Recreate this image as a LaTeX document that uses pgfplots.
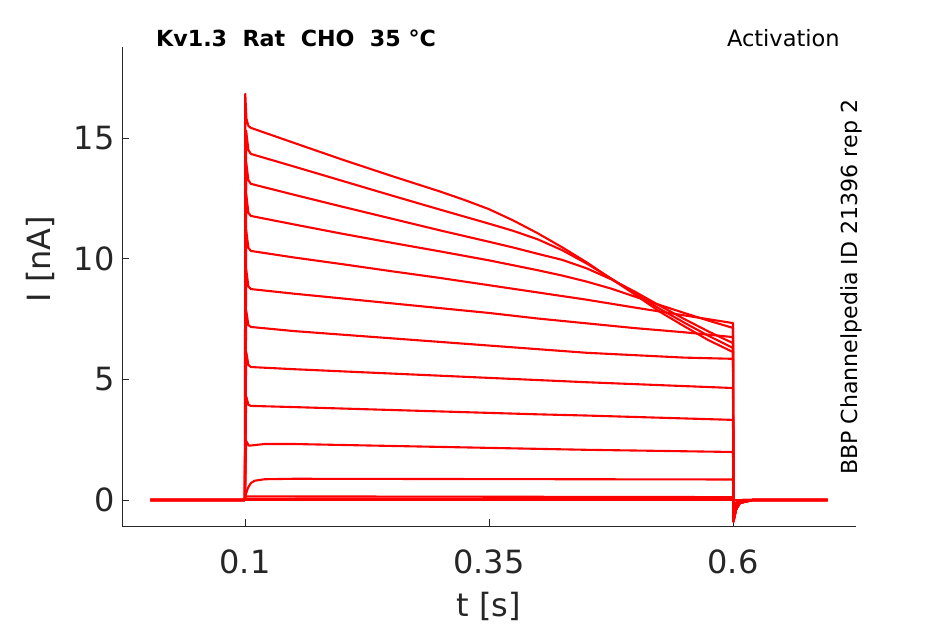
\documentclass[border=0pt]{standalone}
\usepackage{pgfplots}
\pgfplotsset{compat=1.18}
\usepackage{fontspec}
\setmainfont{DejaVu Sans}
\definecolor{axcol}{HTML}{262626}
\pgfplotsset{trace/.style={color=red, line width=2.1pt, line join=round, no markers}}
\begin{document}
\begin{tikzpicture}
\path[use as bounding box] (-122pt,-98pt) rectangle (823pt,526pt);
\begin{axis}[
  scale only axis, width=734pt, height=479pt,
  xmin=-0.026, xmax=0.726, ymin=-1.077, ymax=18.77,
  axis x line*=bottom, axis y line*=left,
  axis line style={-, draw=axcol, line width=0.9pt},
  xtick={0.1,0.35,0.6}, xticklabels={0.1,0.35,0.6},
  ytick={0,5,10,15}, yticklabels={0,5,10,15},
  tick align=inside, major tick length=7pt,
  tick style={draw=axcol, line width=0.9pt},
  tick label style={font=\fontsize{32}{38}\selectfont, text=axcol},
  /pgf/number format/assume math mode=true,
  xticklabel style={yshift=-20pt},
  yticklabel style={xshift=-4pt},
  xlabel={t [s]}, ylabel={I [nA]},
  xlabel style={at={(axis description cs:0.5,-0.167)}, anchor=center, font=\fontsize{32}{38}\selectfont, text=axcol},
  ylabel style={at={(axis description cs:-0.1117,0.557)}, anchor=center, font=\fontsize{32}{38}\selectfont, text=axcol},
  clip=false,
]
% near-zero traces
\addplot[trace] coordinates {(0.003,0) (0.6,0) (0.697,0)};
\addplot[trace] coordinates {(0.003,0) (0.0999,0) (0.101,0.06) (0.6,0.05) (0.6004,-0.3) (0.604,-0.05) (0.61,0) (0.697,0)};
\addplot[trace] coordinates {(0.003,0) (0.0999,0) (0.101,0.15) (0.3,0.14) (0.6,0.12) (0.6004,-0.4) (0.604,-0.08) (0.61,0) (0.697,0)};
% T11
\addplot[trace] coordinates {(0.003,0) (0.0999,0) (0.101,0.25) (0.103,0.5) (0.106,0.7) (0.11,0.8) (0.12,0.86) (0.15,0.88) (0.3,0.87) (0.45,0.86) (0.6,0.85) (0.6004,-0.5) (0.603,-0.15) (0.61,0) (0.697,0)};
% T10
\addplot[trace] coordinates {(0.003,0) (0.0999,0) (0.1012,2.45) (0.104,2.25) (0.12,2.32) (0.15,2.32) (0.2,2.28) (0.25,2.24) (0.3,2.2) (0.35,2.16) (0.4,2.12) (0.45,2.08) (0.5,2.05) (0.55,2.02) (0.6,1.99) (0.6004,-0.6) (0.603,-0.2) (0.61,-0.02) (0.62,0) (0.697,0)};
% T9
\addplot[trace] coordinates {(0.003,0) (0.0999,0) (0.1012,4.3) (0.1035,3.95) (0.106,3.9) (0.15,3.85) (0.2,3.79) (0.25,3.73) (0.3,3.67) (0.35,3.61) (0.4,3.55) (0.45,3.5) (0.5,3.44) (0.55,3.38) (0.6,3.32) (0.6004,-0.7) (0.603,-0.3) (0.607,-0.08) (0.62,0) (0.697,0)};
% T8
\addplot[trace] coordinates {(0.003,0) (0.0999,0) (0.1012,6.15) (0.1035,5.6) (0.106,5.51) (0.15,5.42) (0.2,5.33) (0.25,5.24) (0.3,5.15) (0.35,5.06) (0.4,4.97) (0.45,4.88) (0.5,4.8) (0.55,4.72) (0.6,4.64) (0.6004,-0.8) (0.603,-0.35) (0.607,-0.1) (0.62,0) (0.697,0)};
% T7
\addplot[trace] coordinates {(0.003,0) (0.0999,0) (0.1012,7.87) (0.1035,7.25) (0.106,7.17) (0.15,7.0) (0.2,6.85) (0.25,6.7) (0.3,6.55) (0.35,6.4) (0.4,6.25) (0.45,6.1) (0.5,6.0) (0.55,5.9) (0.6,5.85) (0.6004,-0.85) (0.603,-0.4) (0.607,-0.12) (0.62,0) (0.697,0)};
% T6
\addplot[trace] coordinates {(0.003,0) (0.0999,0) (0.1012,9.57) (0.1035,8.85) (0.106,8.74) (0.15,8.55) (0.2,8.35) (0.25,8.15) (0.3,7.95) (0.35,7.75) (0.4,7.52) (0.45,7.32) (0.5,7.12) (0.55,6.95) (0.6,6.75) (0.6004,-0.85) (0.603,-0.4) (0.607,-0.12) (0.62,0) (0.697,0)};
% T5
\addplot[trace] coordinates {(0.003,0) (0.0999,0) (0.1012,11.2) (0.1035,10.45) (0.106,10.32) (0.15,10.05) (0.2,9.77) (0.25,9.48) (0.3,9.2) (0.35,8.9) (0.4,8.6) (0.45,8.3) (0.5,7.97) (0.55,7.65) (0.6,7.33) (0.6004,-0.9) (0.603,-0.4) (0.607,-0.12) (0.62,0) (0.697,0)};
% T4
\addplot[trace] coordinates {(0.003,0) (0.0999,0) (0.1012,12.7) (0.1035,11.9) (0.106,11.77) (0.15,11.42) (0.2,11.03) (0.25,10.66) (0.3,10.3) (0.35,9.93) (0.4,9.52) (0.425,9.3) (0.45,9.05) (0.475,8.76) (0.5,8.42) (0.525,8.08) (0.55,7.75) (0.575,7.43) (0.6,7.13) (0.6004,-0.9) (0.603,-0.4) (0.607,-0.12) (0.62,0) (0.697,0)};
% T3
\addplot[trace] coordinates {(0.003,0) (0.0999,0) (0.1012,14.0) (0.1035,13.25) (0.106,13.1) (0.15,12.65) (0.2,12.15) (0.25,11.66) (0.3,11.17) (0.35,10.7) (0.375,10.46) (0.4,10.2) (0.425,9.95) (0.45,9.6) (0.475,9.15) (0.5,8.62) (0.525,8.05) (0.55,7.5) (0.575,6.98) (0.6,6.5) (0.6004,-0.9) (0.603,-0.4) (0.607,-0.12) (0.62,0) (0.697,0)};
% T2
\addplot[trace] coordinates {(0.003,0) (0.0999,0) (0.1012,15.3) (0.1035,14.5) (0.106,14.34) (0.15,13.82) (0.2,13.22) (0.25,12.62) (0.3,12.03) (0.35,11.45) (0.375,11.15) (0.4,10.8) (0.425,10.35) (0.45,9.8) (0.475,9.18) (0.5,8.55) (0.525,7.92) (0.55,7.35) (0.575,6.8) (0.6,6.3) (0.6004,-0.9) (0.603,-0.4) (0.607,-0.12) (0.62,0) (0.697,0)};
% T1
\addplot[trace] coordinates {(0.003,0) (0.0999,0) (0.1003,16.83) (0.1015,15.8) (0.1035,15.5) (0.106,15.42) (0.15,14.8) (0.2,14.1) (0.25,13.43) (0.3,12.78) (0.325,12.43) (0.35,12.05) (0.375,11.58) (0.4,11.05) (0.425,10.47) (0.45,9.85) (0.475,9.17) (0.5,8.5) (0.525,7.8) (0.55,7.2) (0.575,6.62) (0.6,6.13) (0.6004,-0.9) (0.603,-0.4) (0.607,-0.12) (0.62,0) (0.697,0)};
\node[anchor=base west, inner sep=0pt, font=\fontsize{22.2}{26}\selectfont\bfseries, text=black] at (axis description cs:0.0463,1) {Kv1.3\ \ Rat\ \ CHO\ \ 35 °C};
\node[anchor=base east, inner sep=0pt, font=\fontsize{22.5}{26}\selectfont, text=black] at (axis description cs:0.978,1) {Activation};
\node[anchor=base west, inner sep=0pt, rotate=90, font=\fontsize{22.1}{26}\selectfont, text=black] at (axis description cs:1.0014,0.1065) {BBP Channelpedia ID 21396 rep 2};
\end{axis}
\end{tikzpicture}
\end{document}
